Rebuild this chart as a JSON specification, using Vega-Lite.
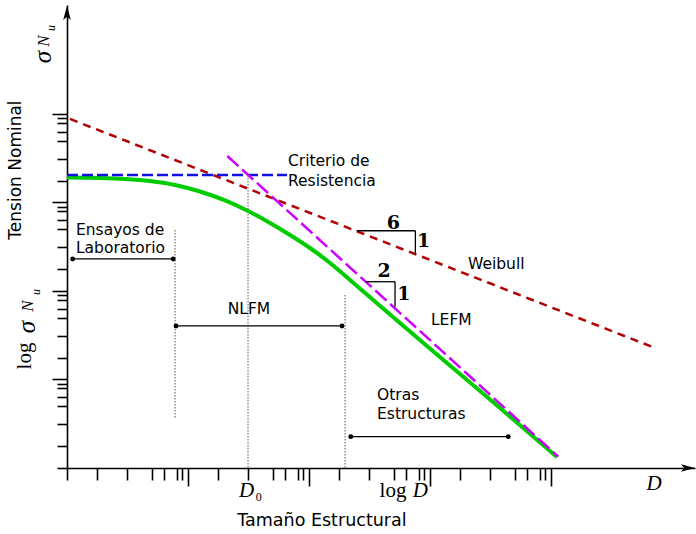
{
  "$schema": "https://vega.github.io/schema/vega-lite/v6.json",
  "width": 628,
  "height": 463,
  "autosize": {"type": "none"},
  "padding": {"left": 67, "top": 5, "right": 1, "bottom": 66},
  "background": "white",
  "config": {"view": {"stroke": null}},
  "datasets": {
    "lines": [
      {"s": "weibull", "x": 0.025, "y": 3.944},
      {"s": "weibull", "x": 4.860, "y": 1.356},
      {"s": "blue", "x": 0.0, "y": 3.311},
      {"s": "blue", "x": 1.818, "y": 3.311},
      {"s": "magenta", "x": 1.325, "y": 3.525},
      {"s": "magenta", "x": 4.060, "y": 0.128},
      {"s": "green", "x": 0.0, "y": 3.282},
      {"s": "green", "x": 0.273, "y": 3.277},
      {"s": "green", "x": 0.479, "y": 3.266},
      {"s": "green", "x": 0.686, "y": 3.243},
      {"s": "green", "x": 0.893, "y": 3.198},
      {"s": "green", "x": 1.099, "y": 3.124},
      {"s": "green", "x": 1.306, "y": 3.023},
      {"s": "green", "x": 1.496, "y": 2.904},
      {"s": "green", "x": 1.678, "y": 2.768},
      {"s": "green", "x": 1.843, "y": 2.633},
      {"s": "green", "x": 2.008, "y": 2.486},
      {"s": "green", "x": 2.174, "y": 2.316},
      {"s": "green", "x": 2.339, "y": 2.124},
      {"s": "green", "x": 2.752, "y": 1.638},
      {"s": "green", "x": 3.165, "y": 1.158},
      {"s": "green", "x": 3.579, "y": 0.678},
      {"s": "green", "x": 4.050, "y": 0.124}
    ],
    "segs": [
      {"g": "dot", "x": 1.496, "y": 3.311, "x2": 1.496, "y2": 0.0},
      {"g": "dot", "x": 0.893, "y": 2.689, "x2": 0.893, "y2": 0.565},
      {"g": "dot", "x": 2.298, "y": 1.955, "x2": 2.298, "y2": 0.0},
      {"g": "range", "x": 0.047, "y": 2.362, "x2": 0.878, "y2": 2.362},
      {"g": "range", "x": 0.901, "y": 1.605, "x2": 2.273, "y2": 1.605},
      {"g": "range", "x": 2.345, "y": 0.354, "x2": 3.647, "y2": 0.354},
      {"g": "slope", "x": 2.394, "y": 2.681, "x2": 2.879, "y2": 2.681},
      {"g": "slope", "x": 2.879, "y": 2.681, "x2": 2.879, "y2": 2.426},
      {"g": "slope", "x": 2.471, "y": 2.105, "x2": 2.711, "y2": 2.105},
      {"g": "slope", "x": 2.711, "y": 2.105, "x2": 2.711, "y2": 1.823}
    ],
    "ends": [
      {"x": 0.047, "y": 2.362}, {"x": 0.878, "y": 2.362},
      {"x": 0.901, "y": 1.605}, {"x": 2.273, "y": 1.605},
      {"x": 2.345, "y": 0.354}, {"x": 3.647, "y": 0.354}
    ],
    "arrows": [
      {"g": "xa", "x": 5.132, "y": 0.0},
      {"g": "ya", "x": 0.0, "y": 5.141}
    ],
    "labels": [
      {"g": "sansL", "x": 1.826, "y": 3.412, "t": "Criterio de"},
      {"g": "sansL", "x": 1.826, "y": 3.192, "t": "Resistencia"},
      {"g": "sansL", "x": 3.314, "y": 2.249, "t": "Weibull"},
      {"g": "sansL", "x": 0.074, "y": 2.633, "t": "Ensayos de"},
      {"g": "sansL", "x": 0.074, "y": 2.424, "t": "Laboratorio"},
      {"g": "sansL", "x": 3.008, "y": 1.616, "t": "LEFM"},
      {"g": "sansL", "x": 2.562, "y": 0.768, "t": "Otras"},
      {"g": "sansL", "x": 2.562, "y": 0.550, "t": "Estructuras"},
      {"g": "sansC", "x": 1.504, "y": 1.740, "t": "NLFM"},
      {"g": "xtitle", "x": 2.107, "y": -0.599, "t": "Tamaño Estructural"},
      {"g": "ytitle", "x": -0.421, "y": 3.367, "t": "Tension Nominal"},
      {"g": "digit", "x": 2.697, "y": 2.697, "t": "6"},
      {"g": "digit", "x": 2.948, "y": 2.494, "t": "1"},
      {"g": "digit", "x": 2.621, "y": 2.155, "t": "2"},
      {"g": "digit", "x": 2.783, "y": 1.898, "t": "1"},
      {"g": "italD", "x": 1.485, "y": -0.328, "t": "D"},
      {"g": "italD", "x": 2.921, "y": -0.328, "t": "D"},
      {"g": "italD", "x": 4.851, "y": -0.249, "t": "D"},
      {"g": "roman", "x": 2.694, "y": -0.328, "t": "log"},
      {"g": "sub", "x": 1.585, "y": -0.373, "t": "0"},
      {"g": "rotLog", "x": -0.347, "y": 1.266, "t": "log"},
      {"g": "rotSig", "x": -0.331, "y": 1.593, "t": "σ"},
      {"g": "rotSig", "x": -0.198, "y": 4.644, "t": "σ"},
      {"g": "rotN", "x": -0.322, "y": 1.831, "t": "N"},
      {"g": "rotN", "x": -0.190, "y": 4.825, "t": "N"},
      {"g": "rotU", "x": -0.256, "y": 1.989, "t": "u"},
      {"g": "rotU", "x": -0.132, "y": 4.972, "t": "u"}
    ]
  },
  "encoding": {
    "x": {
      "field": "x", "type": "quantitative",
      "scale": {"domain": [0, 5.19], "nice": false, "zero": false},
      "axis": {
        "values": [0, 0.248, 0.496, 0.702, 0.802, 0.906, 0.952, 1, 1.248, 1.496, 1.702, 1.802, 1.906, 1.952, 2, 2.248, 2.496, 2.702, 2.802, 2.906, 2.952, 3, 3.248, 3.496, 3.702, 3.802, 3.906, 3.952, 4],
        "labels": false, "title": null, "grid": false,
        "domainColor": "black", "domainWidth": 1.6,
        "tickColor": "black", "tickWidth": 1.6,
        "tickSize": {"condition": {"test": "datum.value >= 0.99 && abs(datum.value - round(datum.value)) < 0.001", "value": 18}, "value": 12}
      }
    },
    "y": {
      "field": "y", "type": "quantitative",
      "scale": {"domain": [0, 5.2316], "nice": false, "zero": false},
      "axis": {
        "values": [0, 0.243, 0.495, 0.7, 0.8, 0.9, 0.95, 1, 1.243, 1.495, 1.7, 1.8, 1.9, 1.95, 2, 2.243, 2.495, 2.7, 2.8, 2.9, 2.95, 3, 3.243, 3.495, 3.7, 3.8, 3.9, 3.95, 4],
        "labels": false, "title": null, "grid": false,
        "domainColor": "black", "domainWidth": 1.6,
        "tickColor": "black", "tickWidth": 1.6,
        "tickSize": {"condition": {"test": "datum.value >= 0.99 && abs(datum.value - round(datum.value)) < 0.001", "value": 15}, "value": 10}
      }
    }
  },
  "layer": [
    {
      "data": {"name": "segs"},
      "transform": [{"filter": "datum.g === 'dot'"}],
      "mark": {"type": "rule", "color": "#555555", "strokeWidth": 1, "strokeDash": [1.5, 1.5]},
      "encoding": {"x2": {"field": "x2"}, "y2": {"field": "y2"}}
    },
    {
      "data": {"name": "lines"},
      "transform": [{"filter": "datum.s === 'green'"}],
      "mark": {"type": "line", "color": "#00cc00", "strokeWidth": 4, "interpolate": "monotone"},
      "encoding": {}
    },
    {
      "data": {"name": "lines"},
      "transform": [{"filter": "datum.s === 'weibull'"}],
      "mark": {"type": "line", "color": "#b00000", "strokeWidth": 2.5, "strokeDash": [8, 6]},
      "encoding": {}
    },
    {
      "data": {"name": "lines"},
      "transform": [{"filter": "datum.s === 'blue'"}],
      "mark": {"type": "line", "color": "#1010ee", "strokeWidth": 2.5, "strokeDash": [11, 4]},
      "encoding": {}
    },
    {
      "data": {"name": "lines"},
      "transform": [{"filter": "datum.s === 'magenta'"}],
      "mark": {"type": "line", "color": "#cc00ff", "strokeWidth": 2.5, "strokeDash": [15, 5]},
      "encoding": {}
    },
    {
      "data": {"name": "segs"},
      "transform": [{"filter": "datum.g === 'range'"}],
      "mark": {"type": "rule", "color": "black", "strokeWidth": 1.3},
      "encoding": {"x2": {"field": "x2"}, "y2": {"field": "y2"}}
    },
    {
      "data": {"name": "segs"},
      "transform": [{"filter": "datum.g === 'slope'"}],
      "mark": {"type": "rule", "color": "black", "strokeWidth": 1.3},
      "encoding": {"x2": {"field": "x2"}, "y2": {"field": "y2"}}
    },
    {
      "data": {"name": "ends"},
      "mark": {"type": "point", "shape": "circle", "filled": true, "color": "black", "opacity": 1, "size": 24},
      "encoding": {}
    },
    {
      "data": {"name": "arrows"},
      "transform": [{"filter": "datum.g === 'xa'"}],
      "mark": {"type": "point", "shape": "M1,0 L-1,-0.55 L-0.55,0 L-1,0.55 Z", "filled": true, "color": "black", "opacity": 1, "size": 196},
      "encoding": {}
    },
    {
      "data": {"name": "arrows"},
      "transform": [{"filter": "datum.g === 'ya'"}],
      "mark": {"type": "point", "shape": "M0,-1 L-0.55,1 L0,0.55 L0.55,1 Z", "filled": true, "color": "black", "opacity": 1, "size": 196},
      "encoding": {}
    },
    {
      "data": {"name": "labels"},
      "transform": [{"filter": "datum.g === 'sansL'"}],
      "mark": {"type": "text", "font": "DejaVu Sans", "fontSize": 15.5, "align": "left", "baseline": "alphabetic", "color": "black"},
      "encoding": {"text": {"field": "t"}}
    },
    {
      "data": {"name": "labels"},
      "transform": [{"filter": "datum.g === 'sansC'"}],
      "mark": {"type": "text", "font": "DejaVu Sans", "fontSize": 15.5, "align": "center", "baseline": "alphabetic", "color": "black"},
      "encoding": {"text": {"field": "t"}}
    },
    {
      "data": {"name": "labels"},
      "transform": [{"filter": "datum.g === 'xtitle'"}],
      "mark": {"type": "text", "font": "DejaVu Sans", "fontSize": 17.5, "align": "center", "baseline": "middle", "color": "black"},
      "encoding": {"text": {"field": "t"}}
    },
    {
      "data": {"name": "labels"},
      "transform": [{"filter": "datum.g === 'ytitle'"}],
      "mark": {"type": "text", "font": "DejaVu Sans", "fontSize": 17, "align": "center", "baseline": "middle", "angle": 270, "color": "black"},
      "encoding": {"text": {"field": "t"}}
    },
    {
      "data": {"name": "labels"},
      "transform": [{"filter": "datum.g === 'digit'"}],
      "mark": {"type": "text", "font": "DejaVu Serif", "fontSize": 19, "fontWeight": "bold", "align": "center", "baseline": "alphabetic", "color": "black"},
      "encoding": {"text": {"field": "t"}}
    },
    {
      "data": {"name": "labels"},
      "transform": [{"filter": "datum.g === 'italD'"}],
      "mark": {"type": "text", "font": "Liberation Serif", "fontSize": 21, "fontStyle": "italic", "align": "center", "baseline": "alphabetic", "color": "black"},
      "encoding": {"text": {"field": "t"}}
    },
    {
      "data": {"name": "labels"},
      "transform": [{"filter": "datum.g === 'roman'"}],
      "mark": {"type": "text", "font": "Liberation Serif", "fontSize": 21, "align": "center", "baseline": "alphabetic", "color": "black"},
      "encoding": {"text": {"field": "t"}}
    },
    {
      "data": {"name": "labels"},
      "transform": [{"filter": "datum.g === 'sub'"}],
      "mark": {"type": "text", "font": "Liberation Serif", "fontSize": 12, "align": "center", "baseline": "alphabetic", "color": "black"},
      "encoding": {"text": {"field": "t"}}
    },
    {
      "data": {"name": "labels"},
      "transform": [{"filter": "datum.g === 'rotLog'"}],
      "mark": {"type": "text", "font": "Liberation Serif", "fontSize": 21, "align": "center", "baseline": "middle", "angle": 270, "color": "black"},
      "encoding": {"text": {"field": "t"}}
    },
    {
      "data": {"name": "labels"},
      "transform": [{"filter": "datum.g === 'rotSig'"}],
      "mark": {"type": "text", "font": "Liberation Serif", "fontSize": 25, "fontStyle": "italic", "align": "center", "baseline": "middle", "angle": 270, "color": "black"},
      "encoding": {"text": {"field": "t"}}
    },
    {
      "data": {"name": "labels"},
      "transform": [{"filter": "datum.g === 'rotN'"}],
      "mark": {"type": "text", "font": "Liberation Serif", "fontSize": 17, "fontStyle": "italic", "align": "center", "baseline": "middle", "angle": 270, "color": "black"},
      "encoding": {"text": {"field": "t"}}
    },
    {
      "data": {"name": "labels"},
      "transform": [{"filter": "datum.g === 'rotU'"}],
      "mark": {"type": "text", "font": "Liberation Serif", "fontSize": 12, "fontStyle": "italic", "align": "center", "baseline": "middle", "angle": 270, "color": "black"},
      "encoding": {"text": {"field": "t"}}
    }
  ]
}
